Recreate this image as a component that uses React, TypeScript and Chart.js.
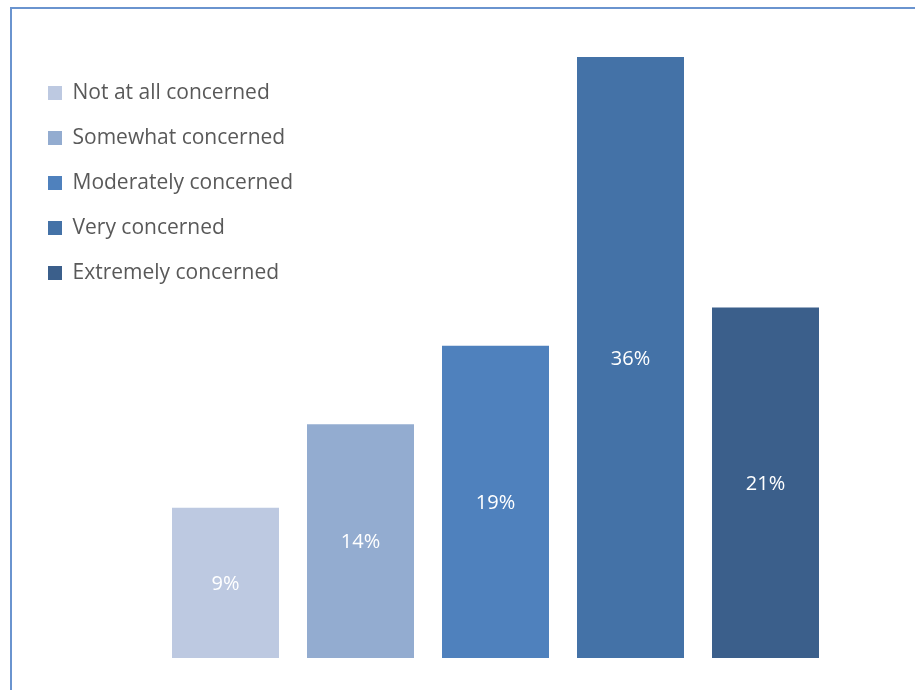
import React, { useEffect, useRef } from "react";
import { Chart, registerables } from "chart.js";

Chart.register(...registerables);

const categories = [
  "Not at all concerned",
  "Somewhat concerned",
  "Moderately concerned",
  "Very concerned",
  "Extremely concerned",
];
const values = [9, 14, 18.7, 36, 21];
const valueLabels = ["9%", "14%", "19%", "36%", "21%"];
const colors = ["#BDC9E1", "#93ACD0", "#4F81BD", "#4472A7", "#3B5F8B"];

const FONT = "'Open Sans'";

const legendPlacement = {
  id: "legendPlacement",
  afterLayout(chart: any) {
    const lg = chart.legend;
    if (!lg) return;
    const w = lg.width;
    const h = lg.height;
    lg.left = 24;
    lg.top = 58.5;
    lg.right = lg.left + w;
    lg.bottom = lg.top + h;
  },
};

const barLabels = {
  id: "barLabels",
  afterDatasetsDraw(chart: any) {
    const ctx = chart.ctx;
    const meta = chart.getDatasetMeta(0);
    ctx.save();
    ctx.fillStyle = "#FFFFFF";
    ctx.font = `20px ${FONT}`;
    ctx.textAlign = "center";
    ctx.textBaseline = "middle";
    meta.data.forEach((el: any, i: number) => {
      const p = el.getProps(["x", "y", "base"], true);
      ctx.fillText(valueLabels[i], p.x, (p.y + p.base) / 2 + 1.5);
    });
    ctx.restore();
  },
};

export default function App() {
  const ref = useRef<HTMLCanvasElement | null>(null);

  useEffect(() => {
    if (!ref.current) return;
    const chart = new Chart(ref.current, {
      type: "bar",
      data: {
        labels: categories,
        datasets: [
          {
            data: values,
            backgroundColor: colors,
            borderWidth: 0,
            barPercentage: 107 / 135,
            categoryPercentage: 1,
          },
        ],
      },
      options: {
        animation: false,
        responsive: false,
        layout: { padding: { left: 158, right: 82, top: 57, bottom: 32 } },
        scales: {
          x: { display: false, grid: { display: false } },
          y: { display: false, min: 0, max: 36, grid: { display: false } },
        },
        plugins: {
          tooltip: { enabled: false },
          legend: {
            position: "chartArea",
            align: "start",
            labels: {
              boxWidth: 14,
              boxHeight: 14,
              padding: 24,
              color: "#595959",
              font: { family: FONT, size: 21 },
              generateLabels: () =>
                categories.map((c, i) => ({
                  text: c,
                  fillStyle: colors[i],
                  strokeStyle: colors[i],
                  lineWidth: 0,
                  hidden: false,
                  index: i,
                  datasetIndex: 0,
                  fontColor: "#595959",
                })),
            },
          },
        },
      } as any,
      plugins: [legendPlacement, barLabels],
    });
    return () => chart.destroy();
  }, []);

  return (
    <div
      style={{
        position: "fixed",
        left: 0,
        top: 0,
        width: 915,
        height: 690,
        overflow: "hidden",
        background: "#FFFFFF",
      }}
    >
      <canvas ref={ref} width={915} height={690} style={{ position: "absolute", left: 0, top: 0 }} />
      <div
        style={{
          position: "absolute",
          left: 10,
          top: 7,
          width: 1000,
          height: 1000,
          borderLeft: "2px solid #6A94CF",
          borderTop: "2px solid #6A94CF",
          boxSizing: "border-box",
        }}
      />
    </div>
  );
}
